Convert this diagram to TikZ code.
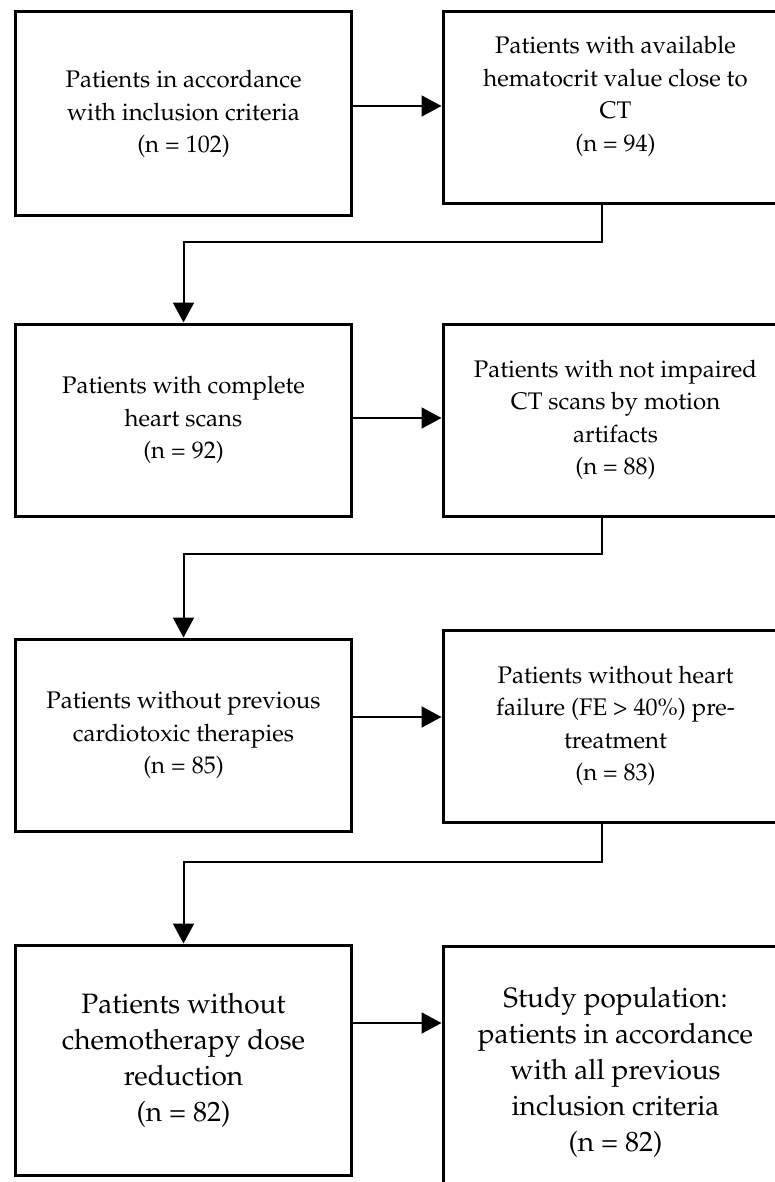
\documentclass[tikz,border=0pt]{standalone}
\usepackage[T1]{fontenc}
\usepackage{mathpazo}
\usepackage{tikz}
\usetikzlibrary{shapes.geometric, arrows.meta}
\tikzstyle{block} = [draw, fill=white, rectangle, line width=3pt, align=center,
    font=\fontsize{24}{32.5}\selectfont, minimum width=336pt, minimum height=192pt]
\tikzstyle{bigblock} = [block, font=\fontsize{28}{36}\selectfont]
\tikzstyle{arrowline} = [draw, line width=2pt, -{Triangle[length=20pt,width=21pt]}]

\begin{document}
\begin{tikzpicture}[node distance=2cm]
    \useasboundingbox (0,0) rectangle (774pt,-1182pt);
    \node [block, minimum height=204pt] (incl) at (183.5pt,-114pt) {Patients in accordance\\ with inclusion criteria\\ (n = 102)};
    \node [block, right of=incl, node distance=432pt, yshift=6pt, minimum width=345pt, text depth=28pt] (hct) {Patients with available\\ hematocrit value close to\\ CT\\ (n = 94)};

    \node [block, below of=incl, node distance=306pt] (scan) {Patients with complete\\ heart scans\\ (n = 92)};
    \node [block, right of=scan, node distance=432pt, minimum width=345pt] (motion) {Patients with not impaired\\ CT scans by motion\\ artifacts\\ (n = 88)};

    \node [block, below of=scan, node distance=315pt] (prev) {Patients without previous\\ cardiotoxic therapies\\ (n = 85)};
    \node [block, right of=prev, node distance=432pt, yshift=9pt, minimum width=345pt] (fail) {Patients without heart\\ failure (FE \textgreater{} 40\%) pre-\\ treatment\\ (n = 83)};

    \node [bigblock, below of=prev, node distance=325pt, minimum height=230pt] (dose) {Patients without\\ chemotherapy dose\\ reduction\\ (n = 82)};
    \node [bigblock, right of=dose, node distance=432pt, yshift=-12pt, minimum width=345pt, minimum height=252pt] (study) {Study population:\\ patients in accordance\\ with all previous\\ inclusion criteria\\ (n = 82)};

    % left to right
    \draw [arrowline] ([yshift=2pt]hct.west -| incl.east) -- ([yshift=2pt]hct.west);
    \draw [arrowline] ([yshift=2pt]motion.west -| scan.east) -- ([yshift=2pt]motion.west);
    \draw [arrowline] ([yshift=9pt]fail.west -| prev.east) -- ([yshift=9pt]fail.west);
    \draw [arrowline] ([yshift=49pt]study.west -| dose.east) -- ([yshift=49pt]study.west);

    % back to the next row
    \draw [arrowline] ([xshift=160pt]hct.south west) -- ++(0,-37pt) -| (scan.north);
    \draw [arrowline] ([xshift=160pt]motion.south west) -- ++(0,-36pt) -| (prev.north);
    \draw [arrowline] ([xshift=160pt]fail.south west) -- ++(0,-38pt) -| (dose.north);
\end{tikzpicture}
\end{document}
